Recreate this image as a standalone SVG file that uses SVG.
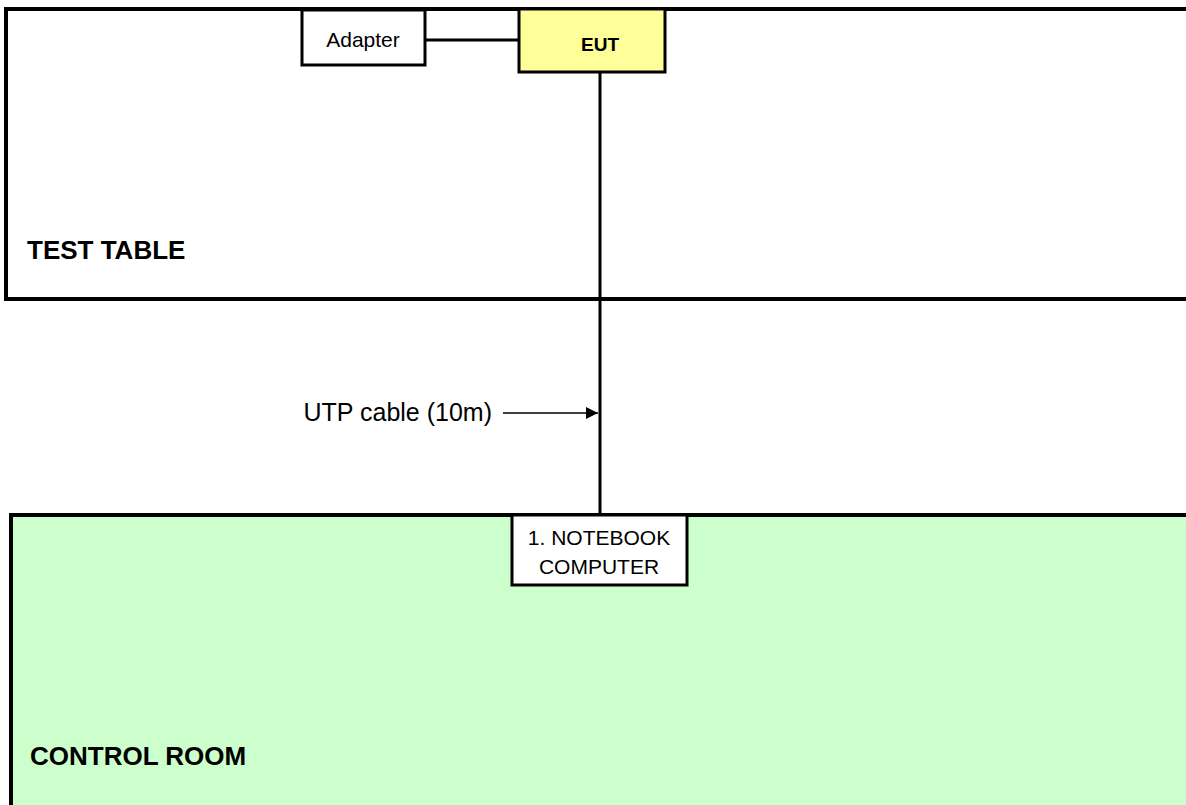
<svg xmlns="http://www.w3.org/2000/svg" width="1186" height="805" viewBox="0 0 1186 805">
<style>
.room{stroke:#000;stroke-width:4;fill:none}
.box{stroke:#000;stroke-width:3}
.t{font-family:"Liberation Sans",Arial,sans-serif;fill:#000}
.b{font-weight:bold}
.wire{stroke:#000;stroke-width:3;fill:none}
</style>
<defs>
<marker id="ah" viewBox="0 0 10 10" refX="10" refY="5" markerWidth="12" markerHeight="12" markerUnits="userSpaceOnUse" orient="auto">
<path d="M0,0 L10,5 L0,10 z" fill="#000"/>
</marker>
</defs>
<g id="test-table">
<rect x="6" y="9" width="1190" height="290" fill="#fff"/>
<path class="room" d="M1190,9 H6 V299 H1190"/>
<text class="t b" x="27" y="259" font-size="26">TEST TABLE</text>
</g>
<g id="control-room">
<rect x="11" y="515" width="1190" height="300" fill="#ccffcc"/>
<path class="room" d="M1190,515 H11 V810"/>
<text class="t b" x="30" y="765" font-size="26">CONTROL ROOM</text>
</g>
<g id="connectors">
<line class="wire" x1="425" y1="40" x2="519" y2="40"/>
<line class="wire" x1="600" y1="72" x2="600" y2="515"/>
<line x1="503" y1="413" x2="598" y2="413" stroke="#000" stroke-width="1.5" marker-end="url(#ah)"/>
<text class="t" x="492" y="421" font-size="25" text-anchor="end">UTP cable (10m)</text>
</g>
<g id="adapter">
<rect class="box" x="302" y="10" width="123" height="55" fill="#fff"/>
<text class="t" x="363" y="47" font-size="21" text-anchor="middle">Adapter</text>
</g>
<g id="eut">
<rect class="box" x="519" y="9" width="146" height="63" fill="#ffff99"/>
<text class="t b" x="600" y="51" font-size="19" text-anchor="middle">EUT</text>
</g>
<g id="notebook">
<rect class="box" x="512" y="515" width="175" height="70" fill="#fff"/>
<text class="t" x="599" y="545" font-size="21" text-anchor="middle">1. NOTEBOOK</text>
<text class="t" x="599" y="574" font-size="21" text-anchor="middle">COMPUTER</text>
</g>
</svg>
